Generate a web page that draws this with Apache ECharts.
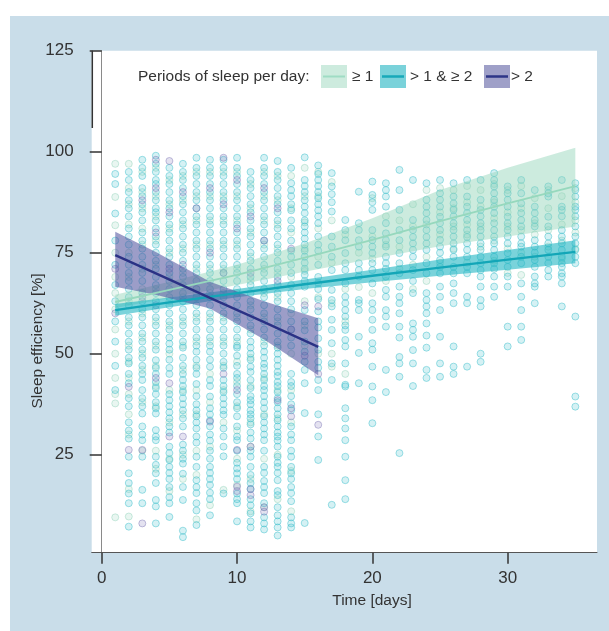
<!DOCTYPE html>
<html>
<head>
<meta charset="utf-8">
<script src="https://cdn.jsdelivr.net/npm/echarts@6/dist/echarts.min.js"></script>
<style>
html,body{margin:0;padding:0;background:#fff;}
#c{width:609px;height:631px;}
</style>
</head>
<body>
<div id="c"></div>
<script>
// ---------- DATA ----------
const days = [1,2,3,4,5,6,7,8,9,10,11,12,13,14,15,16,17,18,19,20,21,22,23,24,25,26,27,28,29,30,31,32,33,34,35];
const xTicks = [0,10,20,30];
const yTicks = [25,50,75,100,125];
const seriesNames = ['\u2265 1', '> 1 & \u2265 2', '> 2'];

// scatter: sleep efficiency values per day (index = day-1)
const tealCols = [
 [94.5,92,84.7,78,72,67,63,58,53,47,41],
 [95,93,90,88,86,84,81,79,77,74,72,70,68,66,64,62,59,57,55,53,51,49,47.6,45,42.7,39,37,33,31,29,24.5,20.4,18,15.4,13,7.2],
 [98,96,94,91,89,87,85,83,80,78,76,74,72,70,68,65,63,61,59,57,55,53,51,49,47,45,43.5,41,39,37,35.2,32,30,28.6,24.5,16.3,13],
 [99,97,95,93,92,90,88,86,85,83,81,79,77,75,73,71,69,67,65,63,61,59,57,55,53,51,48.4,46.5,45,43,41.5,40,38,36.5,35.2,31.1,29.5,28.6,24.5,22.5,20.4,18,13.8,12.2,8],
 [96,94,92,90,88,86,84,82,80,78,76,74,72,70,68,66,64,62,60,58,56,54,52.5,51,48.5,46.5,45,40,38.5,37,35.5,34,32,30.5,27,25.4,23.7,22,20.5,19,17,14.5,13,9.6],
 [97,95,93,91,89,87,85,83,81,79,77,75,73,71,69,67,65,63,61,59,57,55,53,51.5,49,47,45,43.5,42,40.5,39,37.5,36,34,32,27.5,26,24,22.8,20.3,17,13.8,6.2,4.6],
 [98.5,96,94,92,90,88,86,84,82,80,78,76,74,72,70,68,66,64,62,60,58,56,54,52,50.5,48.5,46.5,45,42.5,39.5,37.5,36,34.5,33,31.5,29.5,28,24.5,22,18.7,17,15.5,13,11.2,7.6],
 [98,96,94,92,90,88,86,84,82,80,78,76,74,72,70,68,66,64,62,60,58,56,54,52,50.5,48.5,46.8,43.5,42,39.4,36.5,35,33.5,32,30,28.5,26,24,22,20.5,19,17.5,15.6,14,10],
 [98,96,94,92,90,88,86,84,82,80,78,76,74,72,70,68,66,64,62,60,58,56,54,52,50,48,46.5,43.5,42,40.5,39,37.5,36,34.9,31.5,29.5,27,24.6,15.4],
 [98.5,96,94,92,90,88,86,84,82,80,78,76,74,72,70,68,66,64,62,60,58,56,54,52,51.5,49.5,47,45,44,42,40,38,36.5,34.5,32,29.5,28.6,26,23,21.6,20.4,19,15.4,14,13,8.5],
 [95,93,91,89,87,85,83,81,79,77,75,73,71,69,67,65,63,61,59,57,55,53,51.5,50,48.5,46.8,45.5,43.5,41.5,39.5,38.5,37.5,36,35,34,32.5,30.5,29,26,24.5,22,20,18,16.5,14,12.5,10.5,8.5,7],
 [98.5,96,94,92,90,88,86,84,82,80,78,76,74,72,70,68,66,64,62,60,58,56,54,52,50.5,49,47.5,46.5,45,43.5,42,41,39.5,38,36.5,34.5,33,31.5,30,28.6,26,22,20.5,18.5,17,15.5,13,9.5,8,6.5],
 [97.7,95,93,91,89,87,85,83,81,79,77,75,73,71,69,67,65,63,61,59,57,55,53,51.5,50,48.5,47,45.5,44.5,43,42,40.5,39,38,36.5,35,33.5,32,30.5,29.5,28.5,27,24.5,23,22,20.5,18.7,16,15,12,10,8.5,7,5],
 [96,92.2,90.5,89,87,85.5,83,81,78,75.5,74,72,70,67,65,63,61,58,56,54,52,45,43,42,39.5,37.5,36,32,30,28.6,26,24.5,22,20.4,19,17,15.5,13.5,9.5,8,7],
 [98.6,93,91.5,90,88,86.4,84.8,83,81.5,80,78.5,77,75.5,74,72.5,71,69.5,68,66.6,60.8,58,55.8,53,50.5,48,46,42.7,35.3,8.1],
 [96.6,94.5,93,91.5,90,88.5,87,85.5,84,82.3,79,77,75.5,72,69,67.5,66,63.5,60.5,58,56.5,53.8,51,48,46.5,43.5,41,35,29.5,23.7],
 [94.7,91.4,89.5,87.5,85.2,79,76.5,74,70.7,65.8,63.3,61.7,58.4,55.9,52.6,47.6,43.5,12.6],
 [83.1,80.6,78.1,74.9,72.4,70.7,67.4,64.1,62.5,60.8,59.2,57,55.9,53.4,51.8,47.6,42.3,41.9,36.5,34,31.5,28.6,24.5,18.7,14],
 [90.1,82.3,80.6,78.1,76.5,72.4,70.7,69.1,63.3,62.5,60.8,54.2,50.2,42.7],
 [92.6,89.3,87.5,85.6,80.6,78.1,76.5,74.9,72.4,70.7,67.4,62.5,60.8,58.4,55.9,52.6,51,46.8,41.9,38.5,32.8],
 [92.2,90.5,88.9,86.4,82.3,79.8,78.1,76.5,74,72.4,71,69.1,65.8,64.1,60.8,59.2,56.7,46,40.5],
 [95.5,90.5,85.6,80.6,78.1,74.9,72.4,69.9,66.6,64.1,62.5,60,56.7,54,49.2,47.6,44.3,25.4],
 [93,83.1,80.6,78.9,77.3,75.7,74,70.7,68,65,57.5,55.9,54.2,50.9,47.6,42],
 [92.2,88.1,86.4,84.8,83.1,80.6,78.9,77.3,75.7,72.4,69.9,65,63.3,61.7,60,57.5,54.5,51.5,46,44],
 [93,89.7,88.1,86.4,83.9,82.3,80.6,78.2,76.5,75,73.2,71.5,69.9,66.6,64.1,60.8,54.2,47.6,44.3],
 [92.2,88.9,87.2,85.6,84,82.3,80.6,79,77.3,75.7,74,71.5,69.9,67.4,65,62.5,51.8,46.8,45],
 [93,88.9,86.4,84.8,83.1,80.6,78.9,77.3,75.7,74,71.5,69.9,64.1,62.5,46.8],
 [93,88.1,85.6,84,82.3,80.6,79,77.3,75.7,74,72.4,70.7,69.1,66.6,63.3,61.7,50,48],
 [94.7,93,91.4,89.7,88.1,86.4,84.8,82.3,80.6,79,77.3,75.7,74,72.4,71,69.1,66.6,64.1],
 [91.4,89.7,88.1,86.4,83.9,82.3,80.6,79,77.3,74.9,73.2,71.5,69.1,66.6,56.7,51.8],
 [93,89.7,87.2,84.8,83.1,81.5,79,77.3,76.5,74,72.4,67.4,64.1,60.8,56.7,53.4],
 [90.5,86.4,84.8,83.1,81.5,78.1,76.5,75,73.2,71.5,69.1,67.4,66.6,62.5],
 [91.4,89.7,88.9,83.9,81.5,79,77.3,75.7,74,72.4,70.7,69.1],
 [93,86.4,85.6,84,80.6,79,77.3,75.7,74,72.4,71.5,69.9,69.1,67.4,61.7],
 [92.2,90.5,88.9,86.4,85.6,84,81.5,79,77.3,75.7,74,72.4,59.2,39.4,36.9]
];
const greenCols = [
 [97,88.8,81.8,75,69,65,61,56,50,44,40,37.7,9.5],
 [97,91,87,82,75,69,63,58,52,48,44,40,35,30,16.5,9.7],
 [95,90,86,81,77,71,66,60,54,50,46,38,26],
 [96,89,84,78,72,66,58,52,47,42,37,26,21.5],
 [93,87,81,75,69,63,57,50,41,33,24,16],
 [94,88,82,76,70,64,58,52,46,41,35,25,19],
 [95,89,83,77,71,65,59,53,47,41,35,26,20,9],
 [95,89,83,77,71,65,59,53,45,38,27,12.5],
 [95,89,83,77,71,65,59,53,47,41,33,16.3],
 [95,89,83,77,71,65,59,53,48,43,37,31,24,17.5],
 [92,86,80,74,68,62,56,49,42,33,27,19,11],
 [95,89,83,77,71,65,59,53,44,35,24,12],
 [94,88,82,76,70,64,58,52,41,34,25,14],
 [94,86,80,69,60,50,41,33,21,11],
 [96,89,82.5,76,70.5,63,57,52],
 [95,89,81,74,64,50],
 [92.5,83,72.5,62.5,50,46.8],
 [79.5,66,58,45],
 [75,66.5],
 [88.5,79,73.5,65],
 [84,77,68],
 [83,76.5,71],
 [87,81.5,72,66],
 [90.5,82,74,68],
 [91,85,79.5,72.5],
 [90.5,86,81.5,76],
 [91.5,87.5,82,79.5,72.5],
 [90.5,86.5,81.5,76.5],
 [92,87.5,83.5,78,73],
 [90.5,85,81.5,76,70],
 [91.5,86,80.6,75,69.5],
 [88.5,82.3,79.5,74],
 [90.5,86,80.6,76.5],
 [89,82,78,73.5],
 [91,87.5,83,80,76]
];
const purpleCols = [
 [71,60],[41.8,26.2],[88,64,26.2,8],[98,91,80,62,44],[97.7,85,71,42.7,29.5],
 [90,72,29.5],[86,66],[91,75,33.2],[98.5,87,70,45],[93,81,41,26.2,17.1,16],
 [84,70,27,16.5,15],[91,78,12,10.9],[86,68,38.5],[76,56,36.5,34.5],[62,49.5],
 [61.7,45,32.4],[],[],[],[],[],[],[],[],[],[],[],[],[],[],[],[],[],[],[]
];

// fitted lines and confidence bands
const fitDays = [1,5,10,15,20,25,30,35];
const greenFit = [62.8,65.8,69.5,73.8,78.2,82.8,87.2,91.5];
const greenLo  = [61.3,63.8,67.0,70.3,73.5,76.6,79.0,81.5];
const greenHi  = [64.6,67.8,72.0,77.3,83.5,90.5,96.0,101.0];
const tealFit  = [60.8,62.7,65.0,67.2,69.3,71.3,73.3,75.2];
const tealLo   = [59.4,61.5,64.0,66.0,67.7,69.3,70.8,72.4];
const tealHi   = [62.3,63.9,66.0,68.4,70.8,73.3,75.7,78.1];
const purpleDays = [1,4,8,12,16];
const purpleFit = [74.4,69.9,63.8,57.8,51.7];
const purpleLo  = [66.6,64.6,61.2,53.5,44.7];
const purpleHi  = [80.2,75.2,67.8,63.0,58.8];

// ---------- STYLE ----------
const FONT = '"Liberation Sans", Arial, sans-serif';
const TXT = '#333';
const C = {
  teal:   {pt:'58,190,203',  fa:0.27, ba:0.6,  band:'rgba(33,181,195,0.6)', line:'#13a6b7'},
  green:  {pt:'130,206,178', fa:0.22, ba:0.5,  band:'rgba(143,211,181,0.45)', line:'#96d8bd'},
  purple: {pt:'118,112,178', fa:0.25, ba:0.55, band:'rgba(74,76,154,0.55)', line:'#2b3285'}
};

function toPoints(cols){
  const out=[];
  cols.forEach((vals,i)=>vals.forEach(v=>out.push([days[i], v])));
  return out;
}
function pairs(xs, ys){ return xs.map((x,i)=>[x, ys[i]]); }

function scatter(name, cols, c){
  return {
    type:'scatter', name, data: toPoints(cols), symbolSize:7, z:2,
    itemStyle:{color:'rgba('+c.pt+','+c.fa+')', borderColor:'rgba('+c.pt+','+c.ba+')', borderWidth:1},
    silent:true
  };
}
function band(xs, lo, hi, color){
  const data = xs.map((x,i)=>[x, lo[i], hi[i]]);
  return {
    type:'custom', z:3, silent:true, clip:true,
    data,
    encode:{x:0, y:[1,2]},
    renderItem(params, api){
      if (params.dataIndex !== 0) return null;
      const top = data.map(d=>api.coord([d[0], d[2]]));
      const bot = data.slice().reverse().map(d=>api.coord([d[0], d[1]]));
      return {type:'polygon', shape:{points: top.concat(bot)}, style:{fill:color}};
    }
  };
}
function fitLine(xs, ys, color, w){
  return {type:'line', data:pairs(xs, ys), symbol:'none', z:4, silent:true,
          lineStyle:{color, width:w}};
}

const legendItems = [];
function legendEntry(x, fill, lineColor, lineW, label, tx){
  legendItems.push({type:'rect', shape:{x, y:65, width:26, height:23}, style:{fill}, z:10});
  legendItems.push({type:'line', shape:{x1:x+2, y1:76.5, x2:x+24, y2:76.5}, style:{stroke:lineColor, lineWidth:lineW}, z:11});
  legendItems.push({type:'text', x:tx, y:77, style:{text:label, font:'15.5px '+FONT, fill:TXT, verticalAlign:'middle', align:'left'}, z:11});
}
legendItems.push({type:'text', x:138, y:77, style:{text:'Periods of sleep per day:', font:'15.5px '+FONT, fill:TXT, verticalAlign:'middle', align:'left'}, z:11});
legendEntry(321, '#cdebde', '#9fdcc4', 2, seriesNames[0], 352);
legendEntry(380, '#7ad2da', '#17a9b9', 2.5, seriesNames[1], 410);
legendEntry(484, '#9fa0c8', '#2d3587', 2.5, seriesNames[2], 511);

const chart = echarts.init(document.getElementById('c'), null, {renderer:'canvas'});
chart.setOption({
  backgroundColor:'#fff',
  animation:false,
  grid:{left:91.7, right:12, top:50.7, bottom:78.3, show:true, backgroundColor:'#fff', borderWidth:0},
  xAxis:{
    type:'value', min:-0.74, max:36.6,
    axisLine:{show:true, lineStyle:{color:'#555', width:1}},
    axisTick:{show:true, customValues:xTicks, length:11, lineStyle:{color:'#333', width:1.5}},
    axisLabel:{customValues:xTicks, margin:17, fontSize:17, color:TXT, fontFamily:FONT},
    splitLine:{show:false}
  },
  yAxis:{
    type:'value', min:0.75, max:125,
    axisLine:{show:true, lineStyle:{color:'#8a8a8a', width:1}},
    axisTick:{show:true, customValues:yTicks, length:12, lineStyle:{color:'#333', width:1.5}},
    axisLabel:{customValues:yTicks, margin:18, fontSize:17, color:TXT, fontFamily:FONT},
    splitLine:{show:false}
  },
  graphic:[
    {type:'rect', shape:{x:10, y:16, width:599, height:615}, style:{fill:'#c9dde9'}, z:-100},
    {type:'line', shape:{x1:92.3, y1:50.7, x2:92.3, y2:128}, style:{stroke:'#333', lineWidth:1.5}, z:20},
    {type:'text', x:372, y:601, style:{text:'Time [days]', font:'15.5px '+FONT, fill:TXT, align:'center', verticalAlign:'middle'}, z:20},
    {type:'text', x:38, y:341, rotation:Math.PI/2, style:{text:'Sleep efficiency [%]', font:'15.5px '+FONT, fill:TXT, align:'center', verticalAlign:'middle'}, z:20}
  ].concat(legendItems),
  series:[
    scatter('green pts', greenCols, C.green),
    scatter('teal pts', tealCols, C.teal),
    scatter('purple pts', purpleCols, C.purple),
    band(fitDays, greenLo, greenHi, C.green.band),
    band(fitDays, tealLo, tealHi, C.teal.band),
    band(purpleDays, purpleLo, purpleHi, C.purple.band),
    fitLine(fitDays, greenFit, C.green.line, 1.8),
    fitLine(fitDays, tealFit, C.teal.line, 2.4),
    fitLine(purpleDays, purpleFit, C.purple.line, 2.4)
  ]
});
</script>
</body>
</html>
